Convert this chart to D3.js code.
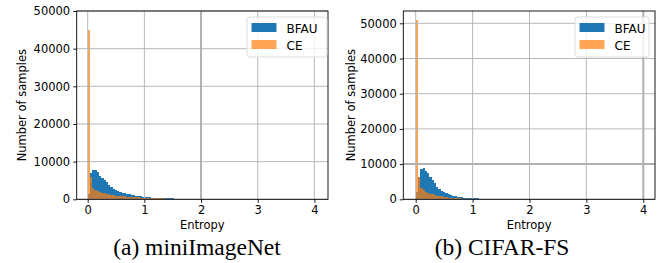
<!DOCTYPE html>
<html><head><meta charset="utf-8">
<script src="https://cdn.jsdelivr.net/npm/d3@7"></script>
<style>body{margin:0;background:#fff}svg{display:block}</style>
</head><body>
<svg id="c" width="660" height="263"></svg>
<script>
// ---------- data ----------
const binWidth = 0.04;           // entropy width of each histogram bin
const binStart = 0.0;            // first bin left edge
const xTicks = [0, 1, 2, 3, 4];
const yTicks = [0, 10000, 20000, 30000, 40000, 50000];
const seriesNames = ["BFAU", "CE"];
const captions = ["(a) miniImageNet", "(b) CIFAR-FS"];

// miniImageNet
const bfauMini = [1500, 6900, 7800, 7800, 7200, 6300, 5600, 5100, 4500, 3800,
  3300, 2750, 2400, 2200, 2000, 1700, 1600, 1400, 1300, 1200,
  1050, 1000, 900, 750, 650, 600, 550, 500, 460, 420,
  380, 350, 320, 300, 280, 260, 240, 220, 200, 190,
  180, 170, 160, 150, 140, 130, 120];
const ceMini = [45000, 6000, 3000, 2500, 2200, 1950, 1750, 1600, 1450, 1300,
  1200, 1100, 1000, 900, 850, 800, 750, 700, 650, 600,
  550, 500, 480, 450, 420, 400, 380, 350, 330, 300,
  280, 260, 240, 220, 200];
// CIFAR-FS
const bfauCifar = [2000, 6400, 8500, 8800, 8100, 7400, 6400, 5500, 4500, 3600,
  2800, 2500, 2100, 1700, 1400, 1200, 1000, 850, 750, 650,
  550, 480, 420, 370, 330, 300, 270, 240, 210, 190,
  170, 150, 130];
const ceCifar = [51000, 6200, 3300, 2600, 2200, 1900, 1600, 1400, 1200, 1000,
  900, 800, 700, 600, 500, 450, 400, 350, 300, 250];

// ---------- layout ----------
const panels = [
  {left: 76.7, right: 328, top: 11, bottom: 199.3, xdom: [-0.194, 4.24], ymax: 50000,
   bfau: bfauMini, ce: ceMini, caption: captions[0], capX: 197, ylabX: 22,
   legend: {x: 247, y: 17, w: 80, h: 40}, thickX: [2], thickY: []},
  {left: 403.3, right: 655, top: 11, bottom: 199.3, xdom: [-0.218, 4.206], ymax: 53500,
   bfau: bfauCifar, ce: ceCifar, caption: captions[1], capX: 502, ylabX: 351,
   legend: {x: 575, y: 17, w: 74, h: 40}, thickX: [4], thickY: [10000]}
];
const colors = {BFAU: "#1f77b4", CE: "#ff7f0e"};
const font = "'DejaVu Sans', sans-serif";
const fs = 11.5;
const svg = d3.select("#c");

panels.forEach(p => {
  const x = d3.scaleLinear().domain(p.xdom).range([p.left, p.right]);
  const y = d3.scaleLinear().domain([0, p.ymax]).range([p.bottom, p.top]);
  const g = svg.append("g");

  const bins = arr => arr.map((v, i) => ({x0: binStart + i * binWidth, x1: binStart + (i + 1) * binWidth, v}));

  // bars
  g.append("g").selectAll("rect").data(bins(p.bfau)).join("rect")
    .attr("x", d => x(d.x0)).attr("width", d => x(d.x1) - x(d.x0))
    .attr("y", d => y(d.v)).attr("height", d => y(0) - y(d.v))
    .attr("fill", colors.BFAU).attr("shape-rendering", "crispEdges");
  g.append("g").selectAll("rect").data(bins(p.ce)).join("rect")
    .attr("x", d => x(d.x0)).attr("width", d => x(d.x1) - x(d.x0))
    .attr("y", d => y(d.v)).attr("height", d => y(0) - y(d.v))
    .attr("fill", colors.CE).attr("fill-opacity", 0.7).attr("shape-rendering", "crispEdges");

  // grid (above bars, as matplotlib)
  const yt = yTicks.filter(t => t <= p.ymax);
  g.append("g").selectAll("line").data(xTicks).join("line")
    .attr("x1", d => x(d)).attr("x2", d => x(d)).attr("y1", p.top).attr("y2", p.bottom)
    .attr("stroke", "#b0b0b0").attr("stroke-width", d => p.thickX.includes(d) ? 2 : 0.9);
  g.append("g").selectAll("line").data(yt).join("line")
    .attr("y1", d => y(d)).attr("y2", d => y(d)).attr("x1", p.left).attr("x2", p.right)
    .attr("stroke", "#b0b0b0").attr("stroke-width", d => p.thickY.includes(d) ? 2 : 0.9);

  // axes
  const xa = d3.axisBottom(x).tickValues(xTicks).tickSize(3.5).tickPadding(3).tickFormat(d3.format("d"));
  const ya = d3.axisLeft(y).tickValues(yt).tickSize(3.5).tickPadding(3).tickFormat(d3.format("d"));
  const gx = g.append("g").attr("transform", `translate(0,${p.bottom})`).call(xa);
  const gy = g.append("g").attr("transform", `translate(${p.left},0)`).call(ya);
  [gx, gy].forEach(a => {
    a.select(".domain").remove();
    a.selectAll("line").attr("stroke", "#000").attr("stroke-width", 0.9);
    a.selectAll("text").attr("font-family", font).attr("font-size", fs).attr("fill", "#000");
  });

  // frame
  g.append("rect").attr("x", p.left).attr("y", p.top)
    .attr("width", p.right - p.left).attr("height", p.bottom - p.top)
    .attr("fill", "none").attr("stroke", "#000").attr("stroke-width", 0.9);

  // labels
  g.append("text").attr("x", (p.left + p.right) / 2).attr("y", 229)
    .attr("text-anchor", "middle").attr("font-family", font).attr("font-size", fs).text("Entropy");
  g.append("text").attr("transform", `translate(${p.ylabX},${(p.top + p.bottom) / 2}) rotate(-90)`)
    .attr("text-anchor", "middle").attr("dominant-baseline", "central")
    .attr("font-family", font).attr("font-size", fs).text("Number of samples");
  g.append("text").attr("x", p.capX).attr("y", 255).attr("text-anchor", "middle")
    .attr("font-family", "'Liberation Serif', 'Times New Roman', serif").attr("font-size", 23.5)
    .text(p.caption);

  // legend
  const L = p.legend;
  const lg = g.append("g");
  lg.append("rect").attr("x", L.x).attr("y", L.y).attr("width", L.w).attr("height", L.h)
    .attr("rx", 2.5).attr("fill", "#fff").attr("fill-opacity", 0.8)
    .attr("stroke", "#d9d9d9").attr("stroke-width", 0.9);
  seriesNames.forEach((s, i) => {
    const yy = L.y + 6 + i * 17;
    lg.append("rect").attr("x", L.x + 4.5).attr("y", yy).attr("width", 25).attr("height", 9)
      .attr("fill", colors[s]).attr("fill-opacity", s === "CE" ? 0.7 : 1);
    lg.append("text").attr("x", L.x + 39.5).attr("y", yy + 9.5).attr("font-family", font)
      .attr("font-size", 12).text(s);
  });
});
</script>
</body></html>
